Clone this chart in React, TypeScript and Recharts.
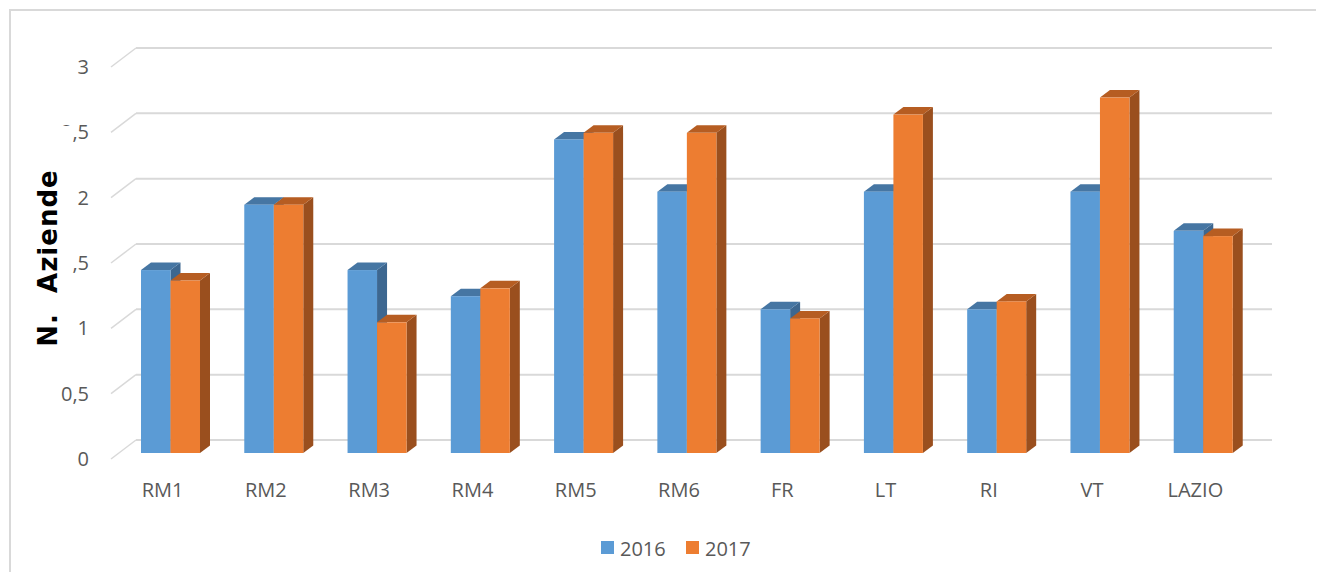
import React from 'react';
import { BarChart, Bar, XAxis, YAxis, CartesianGrid } from 'recharts';

const categories = ['RM1', 'RM2', 'RM3', 'RM4', 'RM5', 'RM6', 'FR', 'LT', 'RI', 'VT', 'LAZIO'];
const values2016 = [1.4, 1.9, 1.4, 1.2, 2.4, 2.0, 1.1, 2.0, 1.1, 2.0, 1.7];
const values2017 = [1.32, 1.9, 1.0, 1.26, 2.45, 2.45, 1.03, 2.59, 1.16, 2.72, 1.66];
const yTicks = [0, 0.5, 1, 1.5, 2, 2.5, 3];
const seriesNames = ['2016', '2017'];

const data = categories.map((name, i) => ({
  name,
  y2016: values2016[i],
  y2017: values2017[i],
}));

// oblique depth of the 3D look
const DEPTH_X = 25;
const DEPTH_Y = 19;
const BAR_DX = 8;
const BAR_DY = -6;
const FACE_X = 10;
const FACE_Y = 7.5;

const TEXT = '#595959';
const GRID = '#d9d9d9';
const FONT = '"Open Sans", sans-serif';

const Bar3D = (props: any) => {
  const { x, y, width, height, fill, topFill, sideFill } = props;
  if (!height || height <= 0) return null;
  const fx = x + BAR_DX;
  const fy = y + BAR_DY;
  const top = `${fx},${fy} ${fx + width},${fy} ${fx + width + FACE_X},${fy - FACE_Y} ${fx + FACE_X},${fy - FACE_Y}`;
  const side = `${fx + width},${fy} ${fx + width + FACE_X},${fy - FACE_Y} ${fx + width + FACE_X},${fy + height - FACE_Y} ${fx + width},${fy + height}`;
  return (
    <g>
      <polygon points={side} fill={sideFill} />
      <polygon points={top} fill={topFill} />
      <rect x={fx} y={fy} width={width} height={height} fill={fill} />
    </g>
  );
};

const gridLine = (props: any) => {
  const { x1, x2, y1, key } = props;
  return (
    <g key={key}>
      <line x1={x1} y1={y1} x2={x1 + DEPTH_X} y2={y1 - DEPTH_Y} stroke={GRID} strokeWidth={1.5} />
      <line x1={x1 + DEPTH_X} y1={y1 - DEPTH_Y} x2={x2 + DEPTH_X} y2={y1 - DEPTH_Y} stroke={GRID} strokeWidth={2} />
    </g>
  );
};

const YTick = ({ x, y, payload }: any) => (
  <text x={x - 22} y={y + 7} textAnchor="end" fill={TEXT} fontSize={20} fontFamily={FONT}>
    {String(payload.value).replace('.', ',')}
  </text>
);

const XTick = ({ x, y, payload }: any) => (
  <text x={x} y={y + 38} textAnchor="middle" fill={TEXT} fontSize={20} fontFamily={FONT}>
    {payload.value}
  </text>
);

export default function App() {
  return (
    <div style={{ position: 'relative', margin: -8, width: 1324, height: 580, overflow: 'hidden', background: '#fff' }}>
      <BarChart
        width={1324}
        height={580}
        data={data}
        margin={{ top: 67, right: 77, bottom: 91, left: 0 }}
        barGap={0}
        barSize={29.5}
      >
        <CartesianGrid horizontal={gridLine} vertical={false} />
        <XAxis
          dataKey="name"
          axisLine={false}
          tickLine={false}
          tickSize={0}
          tickMargin={0}
          height={30}
          interval={0}
          tick={<XTick />}
        />
        <YAxis
          type="number"
          domain={[0, 3]}
          ticks={yTicks}
          axisLine={false}
          tickLine={false}
          tickSize={0}
          tickMargin={0}
          width={111}
          tick={<YTick />}
        />
        <Bar
          dataKey="y2016"
          name={seriesNames[0]}
          fill="#5B9BD5"
          isAnimationActive={false}
          shape={(p: any) => <Bar3D {...p} topFill="#4676A3" sideFill="#3D6790" />}
        />
        <Bar
          dataKey="y2017"
          name={seriesNames[1]}
          fill="#ED7D31"
          isAnimationActive={false}
          shape={(p: any) => <Bar3D {...p} topFill="#B65D22" sideFill="#9A4F1E" />}
        />
      </BarChart>
      <svg width={1324} height={580} style={{ position: 'absolute', left: 0, top: 0, pointerEvents: 'none' }}>
        <rect x={10} y={10} width={1400} height={700} fill="none" stroke={GRID} strokeWidth={2} />
        <rect x={28} y={126} width={44} height={225} fill="#fff" />
        <text
          x={57}
          y={258}
          transform="rotate(-90 57 258)"
          textAnchor="middle"
          fontSize={26}
          fontWeight="bold"
          letterSpacing={1}
          fontFamily='"DejaVu Sans", sans-serif'
          fill="#000"
        >
          {'N.\u00a0\u00a0Aziende'}
        </text>
        <rect x={601} y={541} width={13} height={13} fill="#5B9BD5" />
        <text x={620} y={556} fontSize={20} fontFamily={FONT} fill={TEXT}>{seriesNames[0]}</text>
        <rect x={686} y={541} width={13} height={13} fill="#ED7D31" />
        <text x={705} y={556} fontSize={20} fontFamily={FONT} fill={TEXT}>{seriesNames[1]}</text>
      </svg>
    </div>
  );
}
